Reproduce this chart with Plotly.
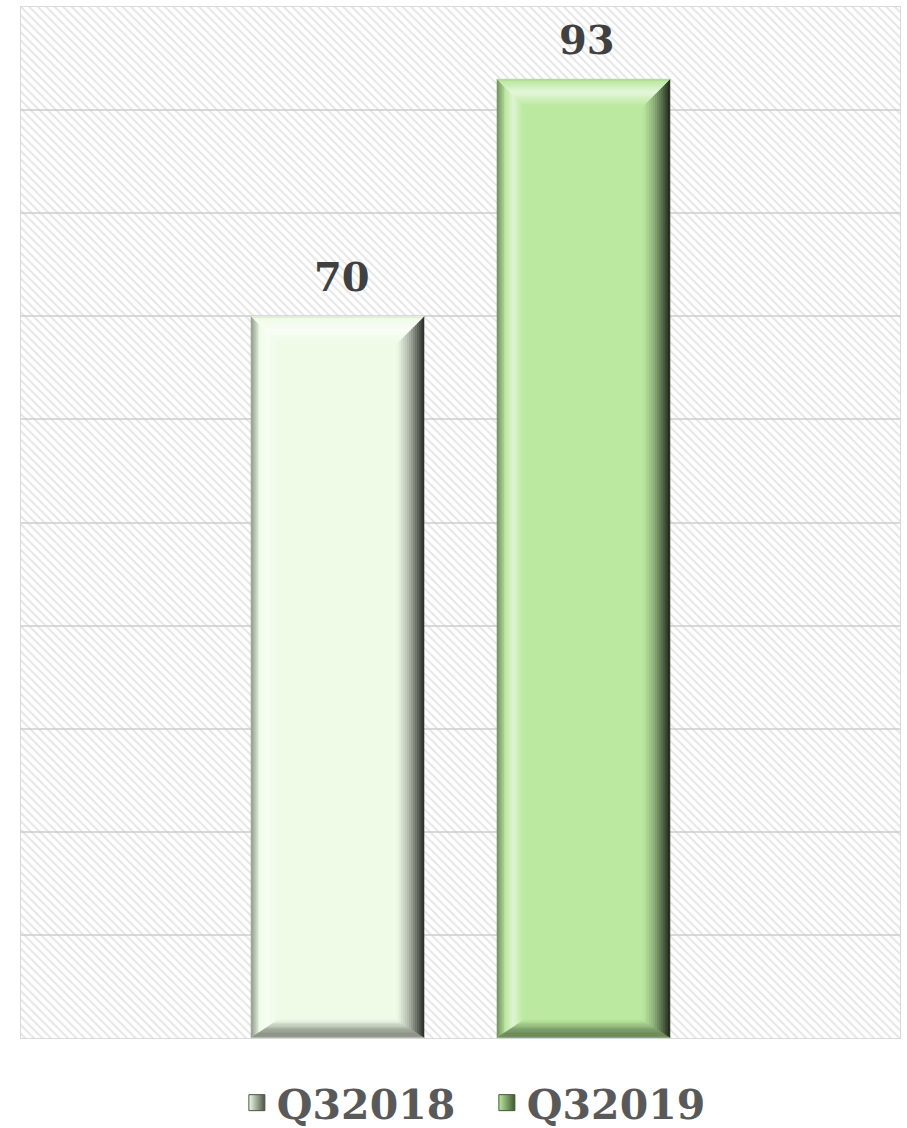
import plotly.graph_objects as go

# Quarterly totals
periods = ["Q32018", "Q32019"]
counts = [70, 93]
fill_colors = ["#EFFBE7", "#BBE9A0"]
edge_colors = ["#4A5545", "#3E5A30"]

# Canvas and plot-area geometry
W, H = 907, 1128
M = dict(l=21, r=7, t=7, b=90)
plot_w = W - M["l"] - M["r"]
plot_h = H - M["t"] - M["b"]
x_range = [-1.287, 2.287]
y_range = [0, 100]
bar_width = 0.703

px_per_x = plot_w / (x_range[1] - x_range[0])
px_per_y = plot_h / (y_range[1] - y_range[0])

# Bevel sizes in pixels
BEVEL_SIDE = 27
BEVEL_TOP = 27
BEVEL_BOTTOM = 18
STRIPS = 14

# Shade profiles across each bevel band: t=0 outer edge, t=1 inner edge.
# Negative shade darkens toward black, positive lightens toward white.
PROFILES = {
    "left": [(0.0, -0.4), (0.25, -0.12), (0.6, 0.55), (1.0, 0.0)],
    "right": [(0.0, -0.85), (0.25, -0.6), (0.6, -0.25), (1.0, 0.0)],
    "top": [(0.0, -0.12), (0.5, 0.65), (1.0, 0.0)],
    "bottom": [(0.0, -0.15), (0.12, -0.45), (0.45, -0.35), (1.0, 0.0)],
}


def hex_to_rgb(h):
    h = h.lstrip("#")
    return [int(h[i:i + 2], 16) for i in (0, 2, 4)]


def shade(rgb, s):
    if s < 0:
        out = [c * (1 + s) for c in rgb]
    else:
        out = [c + (255 - c) * s for c in rgb]
    return "rgb({},{},{})".format(*[int(round(min(255, max(0, c)))) for c in out])


def profile_at(stops, t):
    for (t0, s0), (t1, s1) in zip(stops[:-1], stops[1:]):
        if t0 <= t <= t1:
            return s0 + (s1 - s0) * (t - t0) / (t1 - t0)
    return stops[-1][1]


def path(pts):
    return "M " + " L ".join(f"{x},{y}" for x, y in pts) + " Z"


def bevel_shapes(center, value, color):
    rgb = hex_to_rgb(color)
    left, right = center - bar_width / 2, center + bar_width / 2
    base, top = 0, value
    bx = BEVEL_SIDE / px_per_x
    bt = BEVEL_TOP / px_per_y
    bb = BEVEL_BOTTOM / px_per_y
    shapes = []
    for band in ("left", "right", "top", "bottom"):
        for k in range(STRIPS):
            t0, t1 = k / STRIPS, (k + 1) / STRIPS
            tm = (t0 + t1) / 2
            if band == "left":
                pts = [(left + t0 * bx, base + t0 * bb), (left + t1 * bx, base + t1 * bb),
                       (left + t1 * bx, top - t1 * bt), (left + t0 * bx, top - t0 * bt)]
            elif band == "right":
                pts = [(right - t0 * bx, base + t0 * bb), (right - t1 * bx, base + t1 * bb),
                       (right - t1 * bx, top - t1 * bt), (right - t0 * bx, top - t0 * bt)]
            elif band == "top":
                pts = [(left + t0 * bx, top - t0 * bt), (right - t0 * bx, top - t0 * bt),
                       (right - t1 * bx, top - t1 * bt), (left + t1 * bx, top - t1 * bt)]
            else:
                pts = [(left + t0 * bx, base + t0 * bb), (right - t0 * bx, base + t0 * bb),
                       (right - t1 * bx, base + t1 * bb), (left + t1 * bx, base + t1 * bb)]
            c = shade(rgb, profile_at(PROFILES[band], tm))
            shapes.append(dict(type="path", path=path(pts), xref="x", yref="y",
                               fillcolor=c, line=dict(color=c, width=0.6), layer="above"))
    return shapes


fig = go.Figure()

# Diagonal hatching across the plot area
fig.add_trace(go.Bar(
    x=[sum(x_range) / 2], y=[y_range[1]], width=[x_range[1] - x_range[0]],
    marker=dict(color="rgba(0,0,0,0)", line=dict(width=0),
                pattern=dict(shape="\\", fgcolor="#cccccc", bgcolor="rgba(0,0,0,0)",
                             size=6, solidity=0.33)),
    showlegend=False, hoverinfo="skip",
))

shapes = []
annotations = []
for i, (name, val, col, edge) in enumerate(zip(periods, counts, fill_colors, edge_colors)):
    fig.add_trace(go.Bar(
        x=[i], y=[val], width=bar_width, name=name, legendgroup=name, showlegend=False,
        marker=dict(color=col, line=dict(width=0)),
    ))
    # Legend key: a shaded square for the series
    fig.add_trace(go.Scatter(
        x=[None], y=[None], mode="markers", name=name, legendgroup=name,
        marker=dict(symbol="square", size=16, color=col,
                    gradient=dict(type="horizontal", color=edge),
                    line=dict(color=edge, width=1)),
        hoverinfo="skip",
    ))
    shapes += bevel_shapes(i, val, col)
    annotations.append(dict(
        x=i, y=val, xref="x", yref="y", text=str(val), showarrow=False,
        yanchor="bottom", yshift=14, xshift=4,
        font=dict(family="DejaVu Serif", size=40, color="#404040", weight="bold"),
    ))

fig.update_layout(
    width=W, height=H, margin=M,
    paper_bgcolor="white", plot_bgcolor="white",
    barmode="overlay",
    shapes=shapes, annotations=annotations,
    showlegend=True,
    legend=dict(
        orientation="h", x=0.53, xanchor="center",
        yref="container", y=(H - 1103) / H, yanchor="middle",
        entrywidth=205,
        font=dict(family="DejaVu Serif", size=41, color="#595959", weight="bold"),
        bgcolor="rgba(0,0,0,0)",
    ),
    xaxis=dict(range=x_range, showgrid=False, zeroline=False, showticklabels=False,
               showline=True, mirror=True, linecolor="#d9d9d9", linewidth=1,
               ticks="", fixedrange=True),
    yaxis=dict(range=y_range, dtick=10, showgrid=True, gridcolor="#d9d9d9", gridwidth=1.5,
               zeroline=False, showticklabels=False, showline=True, mirror=True,
               linecolor="#d9d9d9", linewidth=1, ticks="", fixedrange=True),
)

fig.write_html("out.html")
